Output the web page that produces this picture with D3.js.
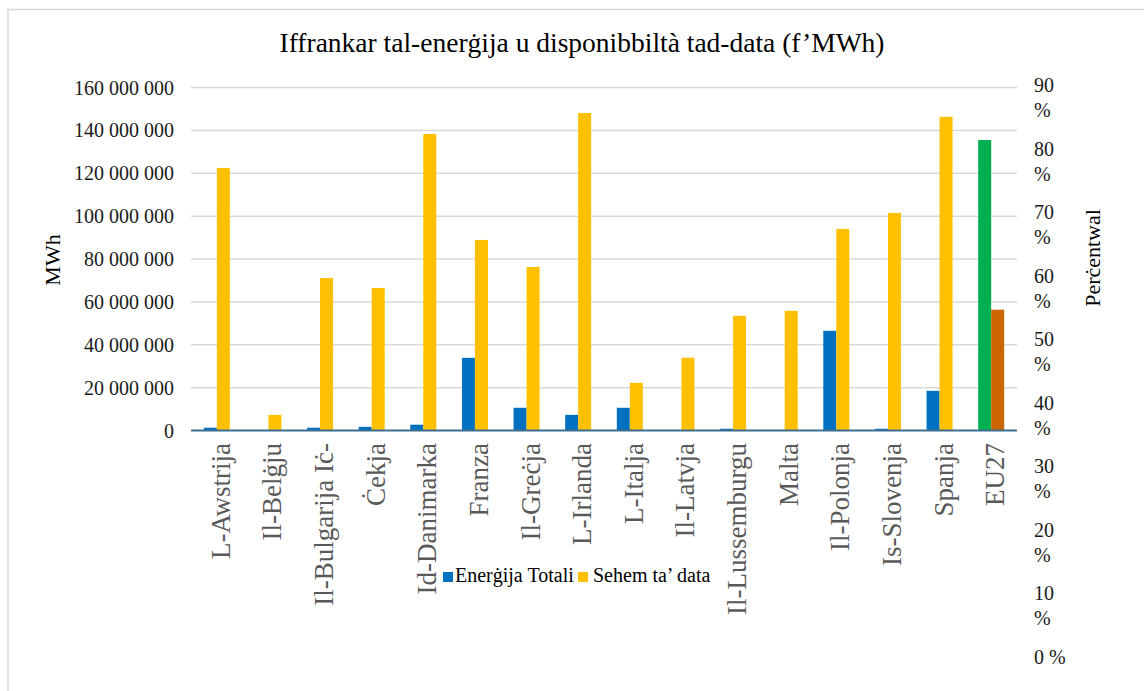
<!DOCTYPE html>
<html>
<head>
<meta charset="utf-8">
<script src="https://cdn.jsdelivr.net/npm/d3@7"></script>
<style>
    body { margin: 0; background: #fff; }
    text { font-family: "Liberation Serif", "Times New Roman", serif; }
</style>
</head>
<body>
<script>
const categories = ["L-Awstrija", "Il-Belġju", "Il-Bulgarija Iċ-", "Ċekja", "Id-Danimarka", "Franza", "Il-Greċja", "L-Irlanda",
    "L-Italja", "Il-Latvja", "Il-Lussemburgu", "Malta", "Il-Polonja", "Is-Slovenja", "Spanja", "EU27"]
// MWh, left axis
const totalEnergy = [1300000, 150000, 1300000, 1700000, 2700000, 33900000, 10600000, 7300000,
    10600000, 150000, 800000, 150000, 46500000, 800000, 18500000, 135500000]
// percent, right axis
const dataShare = [68.9, 4.1, 40.0, 37.4, 77.8, 50.0, 42.9, 83.3,
    12.5, 19.1, 30.1, 31.4, 52.9, 57.1, 82.3, 31.7]
const leftTicks = [0, 20000000, 40000000, 60000000, 80000000, 100000000, 120000000, 140000000, 160000000]
const rightTicks = [0, 10, 20, 30, 40, 50, 60, 70, 80, 90]
const legendLabels = ["Enerġija Totali", "Sehem ta’ data"]
const title = "Iffrankar tal-enerġija u disponibbiltà tad-data (f’MWh)"

const width = 1144
const height = 691
const plot = { left: 191, right: 1017, top: 87.5, bottom: 430.5 }

let svg = d3.select("body").append("svg")
    .attr("width", width)
    .attr("height", height)

let x = d3.scaleBand().domain(categories).range([plot.left, plot.right])
let xSub = d3.scaleBand().domain(["total", "share"]).range([0, x.bandwidth()]).paddingOuter(0.985)
let yLeft = d3.scaleLinear().domain([0, 160000000]).range([plot.bottom, plot.top])
let yRight = d3.scaleLinear().domain([0, 90]).range([plot.bottom, plot.top])
// right axis labels are spread further down than the plot in the original
let yRightLabel = d3.scaleLinear().domain([0, 90]).range([657, 85])

function barColor(key, cat) {
    if (cat == "EU27") return key == "total" ? "#00b050" : "#cc6600"
    return key == "total" ? "#0070c0" : "#ffc000"
}

drawFrame()
drawGrid()
drawBars()
drawAxes()
drawLegend()

function drawFrame() {
    svg.append("path")
        .attr("d", "M8,700 V9.5 H1150")
        .attr("fill", "none")
        .attr("stroke", "#d9d9d9")
        .attr("stroke-width", 1.5)
    svg.append("text")
        .attr("x", 582)
        .attr("y", 52)
        .attr("text-anchor", "middle")
        .style("font-size", "27.5px")
        .attr("fill", "#000")
        .text(title)
}

function drawGrid() {
    svg.append("g").selectAll("line")
        .data(leftTicks.filter(d => d > 0))
        .enter()
        .append("line")
        .attr("x1", plot.left)
        .attr("x2", plot.right)
        .attr("y1", d => yLeft(d))
        .attr("y2", d => yLeft(d))
        .attr("stroke", "#d9d9d9")
        .attr("stroke-width", 1.5)
}

function drawBars() {
    let rows = categories.map((c, i) => ({ cat: c, total: totalEnergy[i], share: dataShare[i] }))
    let groups = svg.append("g").selectAll("g")
        .data(rows)
        .enter()
        .append("g")
        .attr("transform", d => "translate(" + x(d.cat) + ",0)")

    groups.append("rect")
        .attr("x", xSub("total"))
        .attr("width", xSub.bandwidth())
        .attr("y", d => yLeft(d.total))
        .attr("height", d => plot.bottom - yLeft(d.total))
        .attr("fill", d => barColor("total", d.cat))

    groups.append("rect")
        .attr("x", xSub("share"))
        .attr("width", xSub.bandwidth())
        .attr("y", d => yRight(d.share))
        .attr("height", d => plot.bottom - yRight(d.share))
        .attr("fill", d => barColor("share", d.cat))
}

function drawAxes() {
    let fmt = d => d3.format(",")(d).replace(/,/g, " ")

    // left axis
    svg.append("g").selectAll("text")
        .data(leftTicks)
        .enter()
        .append("text")
        .attr("x", 174)
        .attr("y", d => yLeft(d))
        .attr("dy", "0.35em")
        .attr("text-anchor", "end")
        .style("font-size", "20px")
        .attr("fill", "#1a1a1a")
        .text(fmt)

    // baseline
    svg.append("line")
        .attr("x1", plot.left)
        .attr("x2", plot.right)
        .attr("y1", yLeft(0))
        .attr("y2", yLeft(0))
        .attr("stroke", "#3b6e8f")
        .attr("stroke-width", 2)

    // right axis, labels wrapped on two lines
    let right = svg.append("g").selectAll("text")
        .data(rightTicks)
        .enter()
        .append("text")
        .attr("x", 1034)
        .attr("y", d => yRightLabel(d))
        .attr("dy", "0.35em")
        .style("font-size", "20px")
        .attr("fill", "#1a1a1a")
    right.filter(d => d == 0).text("0 %")
    right.filter(d => d > 0).append("tspan").text(d => d)
    right.filter(d => d > 0).append("tspan")
        .attr("x", 1034)
        .attr("dy", 25)
        .text("%")

    // category labels
    svg.append("g").selectAll("text")
        .data(categories)
        .enter()
        .append("text")
        .attr("transform", d => "translate(" + (x(d) + x.bandwidth() / 2 + 13) + ",443) rotate(-90)")
        .attr("text-anchor", "end")
        .style("font-size", "27px")
        .attr("fill", "#595959")
        .text(d => d)

    svg.append("text")
        .attr("transform", "translate(60,260) rotate(-90)")
        .attr("text-anchor", "middle")
        .style("font-size", "22px")
        .attr("fill", "#000")
        .text("MWh")

    svg.append("text")
        .attr("transform", "translate(1100,258) rotate(-90)")
        .attr("text-anchor", "middle")
        .style("font-size", "22px")
        .attr("fill", "#000")
        .text("Perċentwal")
}

function drawLegend() {
    let legend = [
        { key: "total", label: legendLabels[0], x: 443, textX: 455 },
        { key: "share", label: legendLabels[1], x: 578, textX: 593 }
    ]
    let items = svg.append("g").selectAll("g")
        .data(legend)
        .enter()
        .append("g")
    items.append("rect")
        .attr("x", d => d.x)
        .attr("y", 572)
        .attr("width", 10)
        .attr("height", 10)
        .attr("fill", d => barColor(d.key, ""))
    items.append("text")
        .attr("x", d => d.textX)
        .attr("y", 582)
        .style("font-size", "20px")
        .attr("fill", "#000")
        .text(d => d.label)
}
</script>
</body>
</html>
